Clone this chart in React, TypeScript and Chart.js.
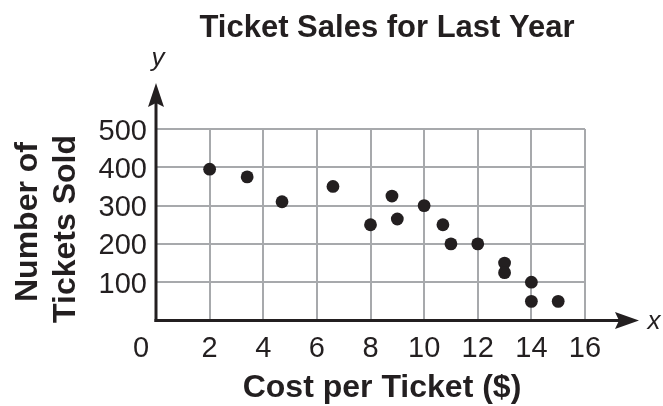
import React, { useEffect, useRef } from 'react';
import { Chart, registerables } from 'chart.js';

Chart.register(...registerables);

// ---- data ----
const costPerTicket = [2, 3.4, 4.7, 6.6, 8, 8.8, 9, 10, 10.7, 11, 12, 13, 13, 14, 14, 15];
const ticketsSold = [395, 375, 310, 350, 250, 325, 265, 300, 250, 200, 200, 150, 125, 100, 50, 50];
const xTickValues = [0, 2, 4, 6, 8, 10, 12, 14, 16];
const yTickValues = [100, 200, 300, 400, 500];
const chartTitle = 'Ticket Sales for Last Year';
const xAxisTitle = 'Cost per Ticket ($)';
const yAxisTitleLines = ['Number of', 'Tickets Sold'];
const xAxisLetter = 'x';
const yAxisLetter = 'y';

const INK = '#231f20';
const GRID = '#a7a9ac';
const FONT = '"Liberation Sans", Arial, Helvetica, sans-serif';

export default function App() {
  const canvasRef = useRef<HTMLCanvasElement>(null);

  useEffect(() => {
    const canvas = canvasRef.current;
    if (!canvas) return;

    const overlay = {
      id: 'overlay',
      afterDraw(chart: any) {
        const ctx: CanvasRenderingContext2D = chart.ctx;
        const xs = chart.scales.x;
        const ys = chart.scales.y;
        const x0 = xs.getPixelForValue(0);
        const y0 = ys.getPixelForValue(0);
        ctx.save();
        ctx.strokeStyle = INK;
        ctx.fillStyle = INK;
        ctx.lineWidth = 3;
        ctx.lineCap = 'butt';

        // y axis with arrow
        const yTip = ys.top - 46;
        ctx.beginPath();
        ctx.moveTo(x0, y0 + 1.5);
        ctx.lineTo(x0, yTip + 18);
        ctx.stroke();
        ctx.beginPath();
        ctx.moveTo(x0, yTip);
        ctx.lineTo(x0 + 8, yTip + 24);
        ctx.lineTo(x0, yTip + 20);
        ctx.lineTo(x0 - 8, yTip + 24);
        ctx.closePath();
        ctx.fill();

        // x axis with arrow
        const xTip = xs.right + 54;
        ctx.beginPath();
        ctx.moveTo(x0 - 1.5, y0);
        ctx.lineTo(xTip - 18, y0);
        ctx.stroke();
        ctx.beginPath();
        ctx.moveTo(xTip, y0);
        ctx.lineTo(xTip - 24, y0 - 8.5);
        ctx.lineTo(xTip - 20, y0);
        ctx.lineTo(xTip - 24, y0 + 8.5);
        ctx.closePath();
        ctx.fill();

        // axis letters
        ctx.font = `italic 26px ${FONT}`;
        ctx.textAlign = 'center';
        ctx.textBaseline = 'alphabetic';
        ctx.fillText(yAxisLetter, x0 + 2, yTip - 17);
        ctx.fillText(xAxisLetter, xTip + 15, y0 + 8);

        // tick labels
        ctx.font = `29px ${FONT}`;
        ctx.textAlign = 'center';
        xTickValues.forEach((v) => {
          const px = xs.getPixelForValue(v);
          ctx.fillText(String(v), v === 0 ? px - 15 : px, y0 + 36);
        });
        ctx.textAlign = 'right';
        yTickValues.forEach((v) => {
          const py = ys.getPixelForValue(v);
          ctx.fillText(String(v), x0 - 9, py + 10.5);
        });

        // title
        ctx.font = `bold 31px ${FONT}`;
        ctx.textAlign = 'center';
        ctx.fillText(chartTitle, 387, 37);

        // x title
        ctx.font = `bold 32px ${FONT}`;
        ctx.fillText(xAxisTitle, 382, 397);

        // y title (rotated)
        const lineBaselines = [37, 75];
        const lineCenters = [222, 229];
        yAxisTitleLines.forEach((t, i) => {
          ctx.save();
          ctx.translate(lineBaselines[i], lineCenters[i]);
          ctx.rotate(-Math.PI / 2);
          ctx.fillText(t, 0, 0);
          ctx.restore();
        });

        ctx.restore();
      },
    };

    const chart = new Chart(canvas, {
      type: 'scatter',
      data: {
        datasets: [
          {
            data: costPerTicket.map((c, i) => ({ x: c, y: ticketsSold[i] })),
            backgroundColor: INK,
            borderColor: INK,
            pointRadius: 6.4,
            pointHoverRadius: 6.4,
            borderWidth: 0,
          },
        ],
      },
      options: {
        animation: false,
        responsive: true,
        maintainAspectRatio: false,
        events: [],
        layout: { padding: { left: 156, right: 78, top: 129, bottom: 85.5 } },
        plugins: {
          legend: { display: false },
          title: { display: false },
          tooltip: { enabled: false },
        },
        scales: {
          x: {
            type: 'linear',
            min: 0,
            max: 16,
            ticks: { display: false, stepSize: 2 },
            grid: { color: GRID, lineWidth: 2, drawTicks: false },
            border: { display: false },
          },
          y: {
            min: 0,
            max: 500,
            ticks: { display: false, stepSize: 100 },
            grid: { color: GRID, lineWidth: 2, drawTicks: false },
            border: { display: false },
          },
        },
      },
      plugins: [overlay],
    });

    return () => chart.destroy();
  }, []);

  return (
    <div style={{ position: 'fixed', left: 0, top: 0, width: 663, height: 406, background: '#fff' }}>
      <canvas ref={canvasRef} />
    </div>
  );
}
